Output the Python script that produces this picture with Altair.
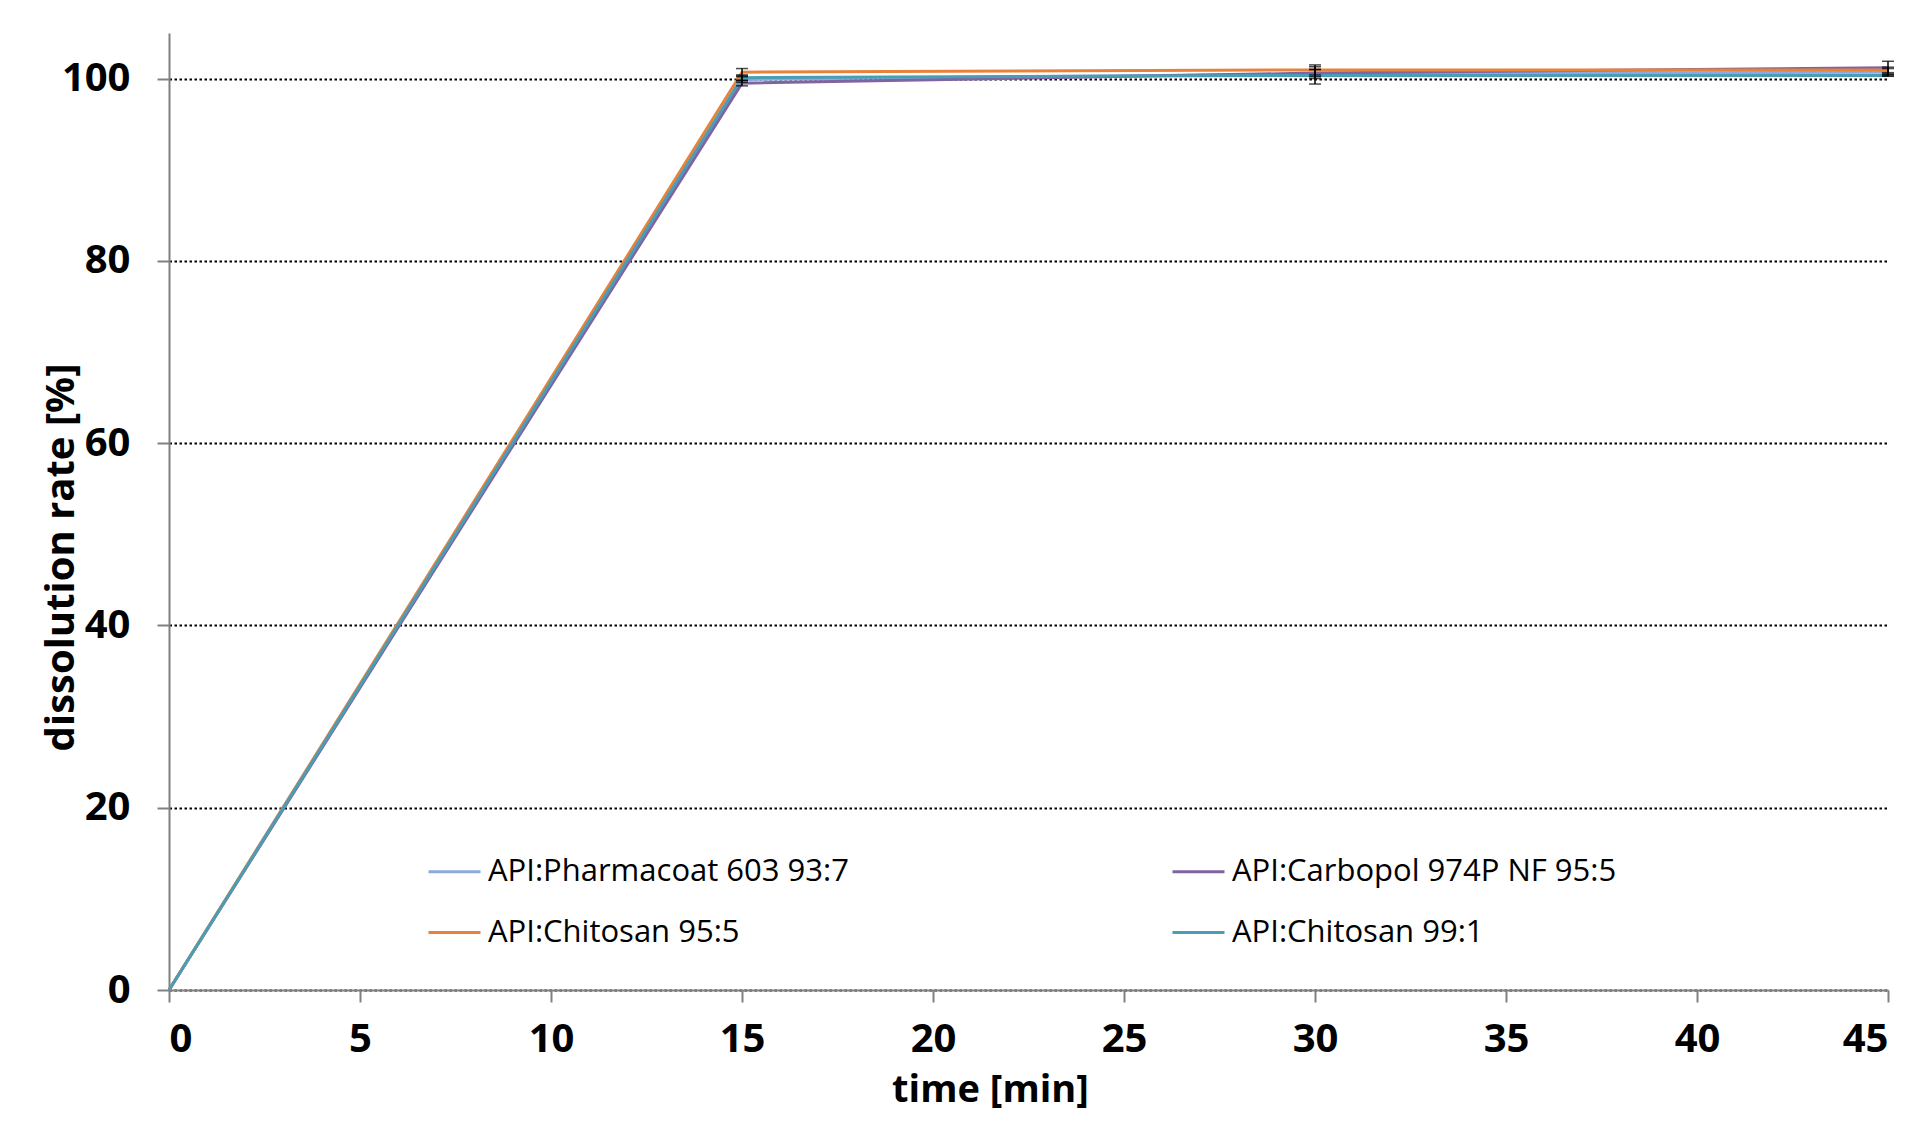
import altair as alt
import pandas as pd

times = [0, 15, 30, 45]
series = [
    "API:Pharmacoat 603 93:7",
    "API:Carbopol 974P NF 95:5",
    "API:Chitosan 95:5",
    "API:Chitosan 99:1",
]
colors = ["#8EAADB", "#8064A2", "#E8823A", "#4B9DB5"]
values = {
    "API:Pharmacoat 603 93:7": [0, 99.9, 100.5, 100.7],
    "API:Carbopol 974P NF 95:5": [0, 99.5, 100.6, 101.2],
    "API:Chitosan 95:5": [0, 100.7, 100.95, 100.95],
    "API:Chitosan 99:1": [0, 100.1, 100.35, 100.35],
}
errors = {
    "API:Pharmacoat 603 93:7": [0, 0.3, 0.5, 0.4],
    "API:Carbopol 974P NF 95:5": [0, 0.3, 0.4, 0.7],
    "API:Chitosan 95:5": [0, 0.4, 0.55, 0.3],
    "API:Chitosan 99:1": [0, 0.3, 0.95, 0.1],
}

rows = []
for s in series:
    for i, t in enumerate(times):
        v = values[s][i]
        e = errors[s][i]
        rows.append({"time": t, "rate": v, "lo": v - e, "hi": v + e,
                     "series": s, "order": series.index(s)})
df = pd.DataFrame(rows)
err_df = df[df["time"] > 0]

FONT = "Open Sans"

xscale = alt.Scale(domain=[0, 45], nice=False)
yscale = alt.Scale(domain=[0, 105], nice=False)

lines = alt.Chart(df).mark_line(strokeWidth=3).encode(
    x=alt.X("time:Q", scale=xscale, title="time [min]",
            axis=alt.Axis(values=list(range(0, 50, 5)), grid=False, format="d",
                          titleX=821)),
    y=alt.Y("rate:Q", scale=yscale, title="dissolution rate [%]",
            axis=alt.Axis(values=[0, 20, 40, 60, 80, 100], grid=True, format="d",
                          titleX=-96, titleY=524, titleBaseline="alphabetic")),
    color=alt.Color("series:N", sort=series,
                    scale=alt.Scale(domain=series, range=colors),
                    legend=alt.Legend(
                        title=None, orient="none", legendX=258, legendY=811,
                        columns=2, direction="horizontal",
                        columnPadding=317, rowPadding=18,
                        symbolType="stroke", symbolSize=2704, symbolStrokeWidth=3,
                        labelFontSize=31, labelFont=FONT, labelColor="black",
                        labelOffset=6, labelLimit=600)),
    order="order:Q",
)

err_rule = alt.Chart(err_df).mark_rule(color="black", strokeWidth=1.5).encode(
    x="time:Q", y="lo:Q", y2="hi:Q"
)
cap_lo = alt.Chart(err_df).mark_tick(color="black", thickness=1.5, size=12,
                                     orient="horizontal").encode(x="time:Q", y="lo:Q")
cap_hi = alt.Chart(err_df).mark_tick(color="black", thickness=1.5, size=12,
                                     orient="horizontal").encode(x="time:Q", y="hi:Q")

chart = alt.layer(lines, err_rule, cap_lo, cap_hi).properties(
    width=1719, height=957,
    autosize=alt.AutoSizeParams(type="none"),
    padding={"left": 161, "top": 25, "right": 12, "bottom": 127},
).configure_view(stroke=None).configure_axis(
    labelFont=FONT, labelFontSize=40, labelFontWeight="bold", labelColor="black",
    titleFont=FONT, titleFontWeight="bold", titleColor="black",
    domainColor="#808080", domainWidth=2, tickColor="#808080", tickWidth=2,
    tickSize=12, gridColor="black", gridDash=[2.5, 2.5], gridWidth=2, gridOpacity=1,
).configure_axisY(labelPadding=27, titleFontSize=40).configure_axisX(
    labelPadding=17, titlePadding=12, titleFontSize=38
)

chart.save("out.html", embed_options={"renderer": "svg", "actions": False})
